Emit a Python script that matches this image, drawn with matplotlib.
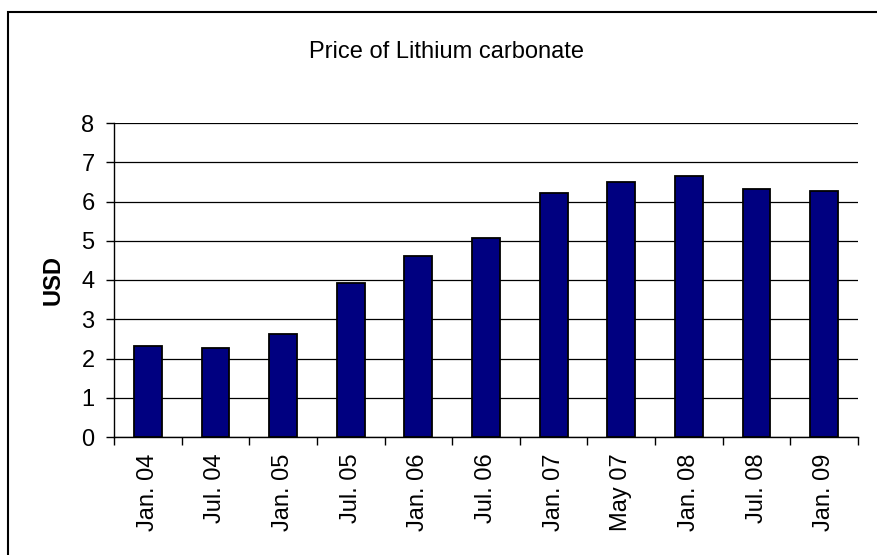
import matplotlib
matplotlib.use("Agg")
import matplotlib.pyplot as plt
from matplotlib.patches import Rectangle
import numpy as np

categories = ["Jan. 04", "Jul. 04", "Jan. 05", "Jul. 05", "Jan. 06", "Jul. 06",
              "Jan. 07", "May 07", "Jan. 08", "Jul. 08", "Jan. 09"]
prices = [2.31, 2.27, 2.62, 3.92, 4.62, 5.07, 6.22, 6.50, 6.64, 6.32, 6.28]
yticks = [0, 1, 2, 3, 4, 5, 6, 7, 8]

plt.rcParams['font.family'] = ['Liberation Sans', 'DejaVu Sans']

W, H = 877, 555
fig = plt.figure(figsize=(W / 100, H / 100), dpi=100)
left, right, top, bottom = 114, 858, 123, 437
ax = fig.add_axes([left / W, 1 - bottom / H, (right - left) / W, (bottom - top) / H])

x = np.arange(len(categories))
ax.bar(x, prices, width=0.41, color="#000080", edgecolor="black", linewidth=1.3, zorder=3)

ax.set_xlim(-0.5, len(categories) - 0.5)
ax.set_ylim(0, 8)
ax.set_yticks(yticks)
ax.set_yticklabels([str(t) for t in yticks], fontsize=17)
ax.yaxis.grid(True, color="black", linewidth=0.9, zorder=0)
ax.set_axisbelow(True)

ax.set_xticks(x)
ax.set_xticklabels(categories, rotation=90, fontsize=17, va="top", ha="center")
ax.set_xticks(np.arange(-0.5, len(categories), 1), minor=True)
ax.tick_params(axis="x", which="major", length=0, pad=12)
ax.tick_params(axis="x", which="minor", length=6, width=1, direction="out")
ax.tick_params(axis="y", length=6, width=1, direction="out", pad=8)

for s in ["top", "right"]:
    ax.spines[s].set_visible(False)
for s in ["left", "bottom"]:
    ax.spines[s].set_linewidth(1)
    ax.spines[s].set_color("black")

ax.set_ylabel("USD", fontsize=17, fontweight="bold")
ax.yaxis.set_label_coords((65 - left) / (right - left), 0.5)

fig.text(447 / W, 1 - 52 / H, "Price of Lithium carbonate", fontsize=17,
         ha="center", va="center")

fig.add_artist(Rectangle((7.5 / W, -0.1), 1.2, 1 - 11.5 / H + 0.1,
                         transform=fig.transFigure, fill=False,
                         edgecolor="black", linewidth=1.5))

fig.savefig("out.png", dpi=100)
